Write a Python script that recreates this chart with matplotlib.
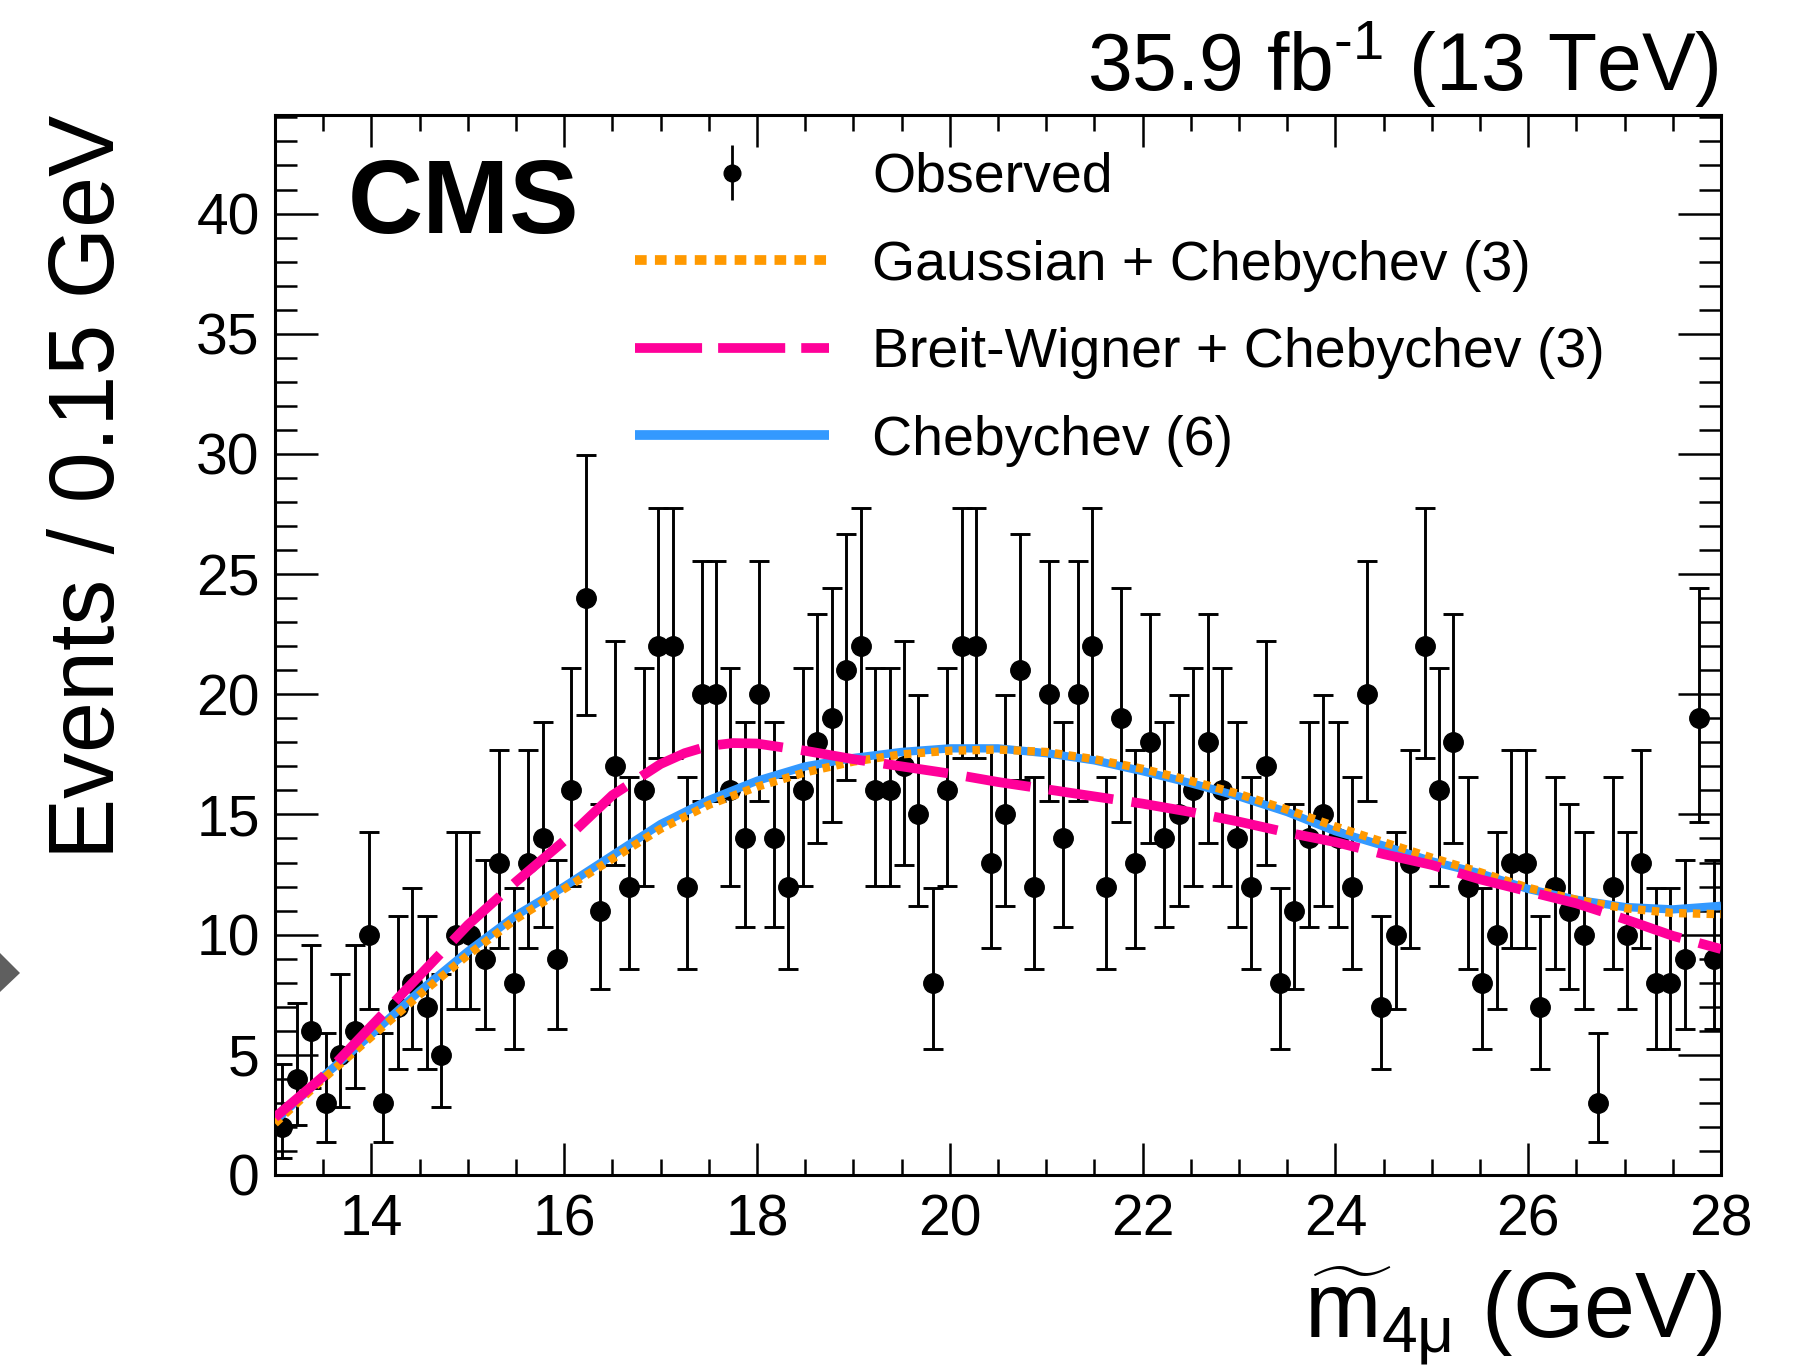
import math
import numpy as np
import matplotlib
matplotlib.use('Agg')
import matplotlib.pyplot as plt
from matplotlib.ticker import MultipleLocator
from matplotlib.patches import Polygon
from matplotlib.lines import Line2D

plt.rcParams['font.family'] = ['Liberation Sans', 'DejaVu Sans']
plt.rcParams['mathtext.fontset'] = 'custom'
plt.rcParams['mathtext.rm'] = 'Liberation Sans'
plt.rcParams['mathtext.it'] = 'Liberation Sans:italic'
plt.rcParams['mathtext.bf'] = 'Liberation Sans:bold'

# ---------------- data ----------------
bin_lo, bin_hi, bin_w = 13.0, 28.0, 0.15
counts = [2, 4, 6, 3, 5, 6, 10, 3, 7, 8, 7, 5, 10, 10, 9, 13, 8,
          13, 14, 9, 16, 24, 11, 17, 12, 16, 22, 22, 12, 20, 20, 16, 14, 20,
          14, 12, 16, 18, 19, 21, 22, 16, 16, 17, 15, 8, 16, 22, 22, 13,
          15, 21, 12, 20, 14, 20, 22, 12, 19, 13, 18, 14, 15, 16, 18, 16, 14,
          12, 17, 8, 11, 14, 15, 14, 12, 20, 7, 10, 13, 22, 16, 18, 12,
          8, 10, 13, 13, 7, 12, 11, 10, 3, 12, 10, 13, 8, 8, 9, 19, 9]

fit_mass = [13.0, 13.5, 14.0, 14.5, 15.0, 15.5, 16.0, 16.5, 17.0, 17.5, 18.0,
            18.5, 19.0, 19.5, 20.0, 20.5, 21.0, 21.5, 22.0, 22.5, 23.0, 23.5,
            24.0, 24.5, 25.0, 25.5, 26.0, 26.5, 27.0, 27.5, 28.0]
chebychev6 = [2.25, 4.1, 5.85, 7.65, 9.3, 10.8, 12.0, 13.3, 14.6, 15.6, 16.4,
              17.0, 17.35, 17.6, 17.75, 17.75, 17.55, 17.25, 16.8, 16.3, 15.75, 15.1,
              14.3, 13.7, 13.05, 12.55, 11.9, 11.45, 11.15, 11.05, 11.2]
gauss_cheb3 = [2.15, 4.0, 5.75, 7.5, 9.15, 10.65, 11.9, 13.15, 14.4, 15.4, 16.15,
               16.75, 17.2, 17.5, 17.65, 17.7, 17.6, 17.3, 16.9, 16.4, 15.85, 15.2,
               14.5, 13.85, 13.2, 12.6, 11.95, 11.45, 11.1, 10.9, 10.85]
bw_mass = [13.0, 13.5, 14.0, 14.5, 15.0, 15.5, 16.0, 16.5, 17.0, 17.25, 17.5, 17.75,
           18.0, 18.5, 19.0, 19.5, 20.0, 20.5, 21.0, 21.5, 22.0, 22.5, 23.0, 23.5,
           24.0, 24.5, 25.0, 25.5, 26.0, 26.5, 27.0, 27.5, 28.0]
bw_cheb3 = [2.4, 4.1, 6.2, 8.3, 10.4, 12.2, 13.9, 15.8, 17.1, 17.55, 17.85, 17.97,
            17.95, 17.65, 17.3, 17.0, 16.7, 16.35, 16.05, 15.75, 15.45, 15.1, 14.7, 14.25,
            13.85, 13.35, 12.9, 12.3, 11.8, 11.3, 10.65, 9.95, 9.4]

labels = ['Observed', 'Gaussian + Chebychev (3)',
          'Breit-Wigner + Chebychev (3)', 'Chebychev (6)']


# --------- Poisson (Garwood) 68% central intervals ---------
def pois_cdf(k, mu):
    s, term = 0.0, math.exp(-mu)
    for i in range(k + 1):
        if i > 0:
            term *= mu / i
        s += term
    return s


def garwood(n, alpha=(1 - 0.682689) / 2):
    if n == 0:
        lo = 0.0
    else:
        a, b = 0.0, float(n)
        for _ in range(80):
            m = 0.5 * (a + b)
            if 1 - pois_cdf(n - 1, m) < alpha:
                a = m
            else:
                b = m
        lo = 0.5 * (a + b)
    a, b = float(n), n + 10 * math.sqrt(n + 1) + 10
    for _ in range(80):
        m = 0.5 * (a + b)
        if pois_cdf(n, m) > alpha:
            a = m
        else:
            b = m
    hi = 0.5 * (a + b)
    return n - lo, hi - n


counts_arr = np.array(counts, dtype=float)
centers = bin_lo + bin_w * (np.arange(len(counts)) + 0.5)
errs = np.array([garwood(n) for n in counts]).T

# ---------------- figure ----------------
W, H = 1809, 1366
fig = plt.figure(figsize=(W / 100, H / 100), dpi=100)
ax = fig.add_axes([275 / W, 1 - 1175 / H, (1721 - 275) / W, (1175 - 115) / H])

c_orange = '#FF9900'
c_pink = '#FF0099'
c_blue = '#3399FF'

ax.errorbar(centers, counts_arr, yerr=errs, fmt='o', color='black', ms=14,
            elinewidth=2.1, capsize=7, capthick=2.1, zorder=2)
ax.plot(fit_mass, chebychev6, color=c_blue, lw=6, solid_capstyle='butt', zorder=3)
ax.plot(fit_mass, gauss_cheb3, color=c_orange, lw=6, dashes=(0.9, 0.75),
        dash_capstyle='butt', zorder=4)
ax.plot(bw_mass, bw_cheb3, color=c_pink, lw=7, dashes=(6.7, 1.9),
        dash_capstyle='butt', zorder=5)

ax.set_xlim(bin_lo, bin_hi)
ax.set_ylim(0, 44.1)
ax.xaxis.set_major_locator(MultipleLocator(2))
ax.xaxis.set_minor_locator(MultipleLocator(0.5))
ax.yaxis.set_major_locator(MultipleLocator(5))
ax.yaxis.set_minor_locator(MultipleLocator(1))
ax.tick_params(which='both', direction='in', top=True, right=True, width=1.8,
               colors='black')
ax.tick_params(axis='x', which='major', length=23, pad=13, labelsize=41)
ax.tick_params(axis='x', which='minor', length=11.5)
ax.tick_params(axis='y', which='major', length=31, pad=11, labelsize=41)
ax.tick_params(axis='y', which='minor', length=16)
for sp in ax.spines.values():
    sp.set_linewidth(2.2)

# legend
h_obs = ax.errorbar([np.nan], [np.nan], yerr=[1], fmt='o', color='black', ms=12,
                    elinewidth=2, capsize=0)
h_gau = Line2D([], [], color=c_orange, lw=7, dashes=(1.2, 0.85), dash_capstyle='butt')
h_bw = Line2D([], [], color=c_pink, lw=7, dashes=(6.9, 1.65), dash_capstyle='butt')
h_ch = Line2D([], [], color=c_blue, lw=7, solid_capstyle='butt')
ax.legend([h_obs, h_gau, h_bw, h_ch], labels, loc='upper left',
          bbox_to_anchor=(635 / W, 1 - 152 / H), bbox_transform=fig.transFigure,
          frameon=False, fontsize=40, handlelength=3.5, handletextpad=0.77,
          labelspacing=0.64, borderpad=0, borderaxespad=0)

# texts
fig.text(348 / W, 1 - 233 / H, 'CMS', fontweight='bold', fontsize=75,
         ha='left', va='baseline')
fig.text(1719 / W, 1 - 90 / H, '35.9 fb$^{\\mathregular{\u2010}1}$ (13 TeV)',
         ha='right', va='baseline', fontsize=58)
fig.text(90 / W, 1 - 115 / H, 'Events / 0.15 GeV', rotation=90,
         ha='center', va='top', fontsize=66)
fig.text(1722 / W, 1 - 1338 / H, r'$\widetilde{\mathrm{m}}_{\mathrm{4\mu}}$ (GeV)',
         ha='right', va='baseline', fontsize=66)

# grey arrow artifact at left edge
fig.patches.append(Polygon([(0, 1 - 953 / H), (20 / W, 1 - 973 / H), (0, 1 - 992 / H)],
                           closed=True, transform=fig.transFigure,
                           facecolor='#5f5f5f', edgecolor='none'))

fig.savefig('out.png', dpi=100)
